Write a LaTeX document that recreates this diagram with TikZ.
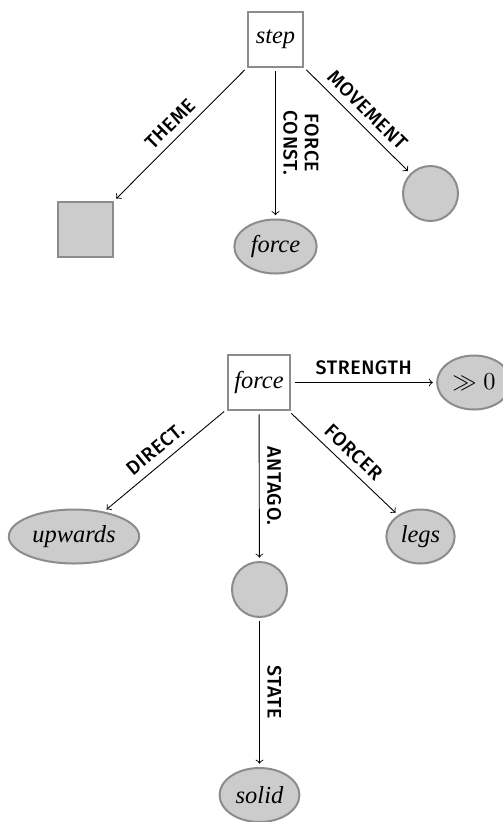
\documentclass[tikz,border=0pt]{standalone}
\usepackage{fontspec}
\setmainfont{Liberation Serif}
\setsansfont{Fira Sans}[UprightFont={* Medium},LetterSpace=3]
\usetikzlibrary{shapes}

\begin{document}
\begin{tikzpicture}[x=0.45pt,y=-0.45pt]
    \tikzstyle{frame}=[rectangle,draw=black!45,line width=0.9pt,minimum size=24.75pt,inner xsep=3pt,font=\fontsize{11}{12}\selectfont\itshape]
    \tikzstyle{filled}=[draw=black!45,fill=black!20,line width=0.9pt,font=\fontsize{11}{12}\selectfont\itshape]
    \tikzstyle{blob}=[filled,ellipse,minimum height=24.3pt,inner xsep=2pt]
    \tikzstyle{dot}=[filled,circle,minimum size=24.75pt]
    \tikzstyle{block}=[filled,rectangle,minimum size=24.75pt]
    \tikzstyle{link}=[->,shorten <=1.5pt,shorten >=1.5pt]
    \tikzstyle{role}=[font=\sffamily\fontsize{8.8}{9.5}\selectfont,sloped,above,align=center]
    \useasboundingbox (0,0) rectangle (503,822);

    \node[frame] (step) at (275.5,39) {step};
    \node[block] (theme) at (85.5,229.5) {};
    \node[blob] (forceconst) at (275.5,246.5) {force};
    \node[dot] (movement) at (430.5,193.5) {};
    \draw[link] (step) -- node[role] {THEME} (theme);
    \draw[link] (step) -- node[role] {FORCE\\CONST.} (forceconst);
    \draw[link] (step) -- node[role] {MOVEMENT} (movement);

    \node[frame] (force) at (259,382.5) {force};
    \node[blob] (strength) at (474,382.5) {$\gg 0$};
    \node[blob] (upwards) at (74,536.5) {upwards};
    \node[blob] (legs) at (420.5,536.5) {legs};
    \node[dot] (antago) at (259.5,589.5) {};
    \node[blob] (solid) at (259.5,795) {solid};
    \draw[link] (force) -- node[role] {STRENGTH} (strength);
    \draw[link] (force) -- node[role] {DIRECT.} (upwards);
    \draw[link] (force) -- node[role] {ANTAGO.} (antago);
    \draw[link] (force) -- node[role] {FORCER} (legs);
    \draw[link] (antago) -- node[role] {STATE} (solid);
\end{tikzpicture}
\end{document}
